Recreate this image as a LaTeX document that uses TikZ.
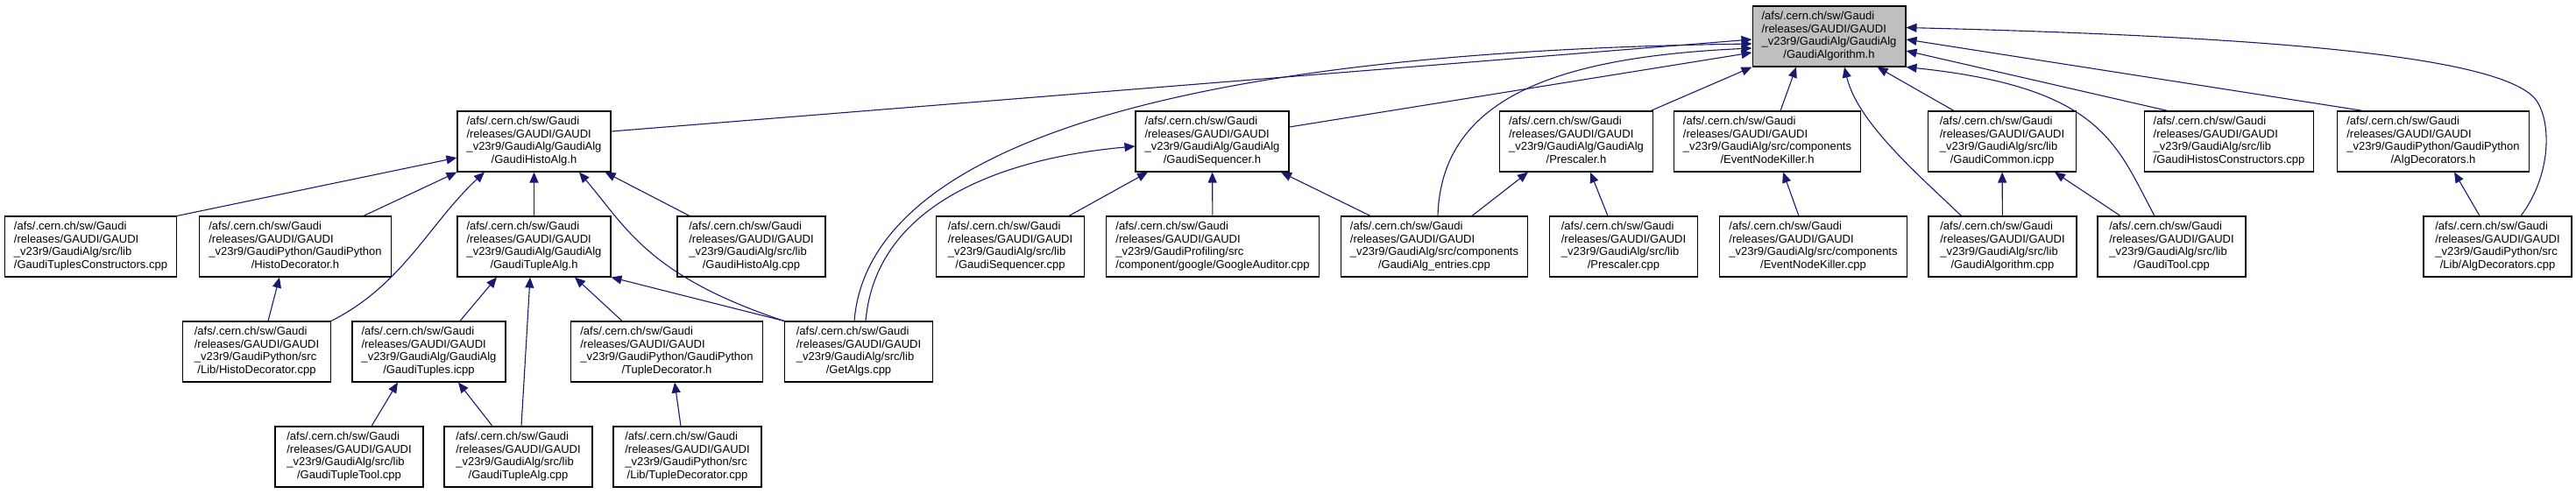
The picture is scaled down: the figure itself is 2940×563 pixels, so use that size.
\documentclass[tikz,border=0pt]{standalone}
\usepackage{fontspec}
\setmainfont{Liberation Sans}
\usepackage{tikz}
\usetikzlibrary{arrows.meta}
\definecolor{edgeblue}{HTML}{191970}
\definecolor{rootgray}{HTML}{BFBFBF}
\newcommand{\afspath}[2]{\begin{tabular}{@{}l@{}}/afs/.cern.ch/sw/Gaudi\\
  /releases/GAUDI/GAUDI\\\_v23r9/#1\\\multicolumn{1}{@{}c@{}}{#2}\end{tabular}}
\tikzset{%
  file/.style = {rectangle,draw=black,line width=1.1pt,fill=white,
        inner xsep=10.5pt,inner ysep=0pt,minimum width=169pt,
        minimum height=69pt,font=\fontsize{13pt}{14.5pt}\selectfont},
  rootfile/.style = {file,fill=rootgray},
  dep/.style = {-{Triangle[length=12pt,width=10pt]},draw=edgeblue,
        line width=1.1pt}
}
\begin{document}
\begin{tikzpicture}[x=1pt,y=-1pt]
\useasboundingbox (0,0) rectangle (2940,563);
% row 0
\node[rootfile] (root) at (2087.5,41.5) {\afspath{GaudiAlg/GaudiAlg}{/GaudiAlgorithm.h}};
% row 1
\node[file] (histoH)     at (609.5,161.5) {\afspath{GaudiAlg/GaudiAlg}{/GaudiHistoAlg.h}};
\node[file] (seqH)       at (1383.5,161.5) {\afspath{GaudiAlg/GaudiAlg}{/GaudiSequencer.h}};
\node[file] (presH)      at (1799,161.5) {\afspath{GaudiAlg/GaudiAlg}{/Prescaler.h}};
\node[file] (enkH)       at (2017,161.5) {\afspath{GaudiAlg/src/components}{/EventNodeKiller.h}};
\node[file] (commonI)    at (2285,161.5) {\afspath{GaudiAlg/src/lib}{/GaudiCommon.icpp}};
\node[file] (histosCons) at (2544,161.5) {\afspath{GaudiAlg/src/lib}{/GaudiHistosConstructors.cpp}};
\node[file] (algDecH)    at (2777,161.5) {\afspath{GaudiPython/GaudiPython}{/AlgDecorators.h}};
% row 2
\node[file] (tuplesCons) at (103.5,281.5) {\afspath{GaudiAlg/src/lib}{/GaudiTuplesConstructors.cpp}};
\node[file] (histoDecH)  at (337,281.5) {\afspath{GaudiPython/GaudiPython}{/HistoDecorator.h}};
\node[file] (tupleAlgH)  at (609.5,281.5) {\afspath{GaudiAlg/GaudiAlg}{/GaudiTupleAlg.h}};
\node[file] (histoAlgC)  at (857.5,281.5) {\afspath{GaudiAlg/src/lib}{/GaudiHistoAlg.cpp}};
\node[file] (seqC)       at (1153,281.5) {\afspath{GaudiAlg/src/lib}{/GaudiSequencer.cpp}};
\node[file] (google)     at (1384,281.5) {\afspath{GaudiProfiling/src}{/component/google/GoogleAuditor.cpp}};
\node[file] (entries)    at (1637,281.5) {\afspath{GaudiAlg/src/components}{/GaudiAlg\_entries.cpp}};
\node[file] (presC)      at (1853,281.5) {\afspath{GaudiAlg/src/lib}{/Prescaler.cpp}};
\node[file] (enkC)       at (2069.5,281.5) {\afspath{GaudiAlg/src/components}{/EventNodeKiller.cpp}};
\node[file] (algoC)      at (2285.5,281.5) {\afspath{GaudiAlg/src/lib}{/GaudiAlgorithm.cpp}};
\node[file] (toolC)      at (2478.5,281.5) {\afspath{GaudiAlg/src/lib}{/GaudiTool.cpp}};
\node[file] (algDecC)    at (2850.5,281.5) {\afspath{GaudiPython/src}{/Lib/AlgDecorators.cpp}};
% row 3
\node[file] (histoDecC)  at (293,401.5) {\afspath{GaudiPython/src}{/Lib/HistoDecorator.cpp}};
\node[file] (tuplesI)    at (489.5,401.5) {\afspath{GaudiAlg/GaudiAlg}{/GaudiTuples.icpp}};
\node[file] (tupleDecH)  at (761,401.5) {\afspath{GaudiPython/GaudiPython}{/TupleDecorator.h}};
\node[file] (getAlgs)    at (980,401.5) {\afspath{GaudiAlg/src/lib}{/GetAlgs.cpp}};
% row 4
\node[file] (tupleTool)  at (398.5,521.5) {\afspath{GaudiAlg/src/lib}{/GaudiTupleTool.cpp}};
\node[file] (tupleAlgC)  at (591.5,521.5) {\afspath{GaudiAlg/src/lib}{/GaudiTupleAlg.cpp}};
\node[file] (tupleDecC)  at (784.5,521.5) {\afspath{GaudiPython/src}{/Lib/TupleDecorator.cpp}};

% into GaudiAlgorithm.h
\draw[dep] ([yshift=11.5pt]histoH.east) -- ([yshift=-3.5pt]root.west);
\draw[dep] ([xshift=-5pt]getAlgs.north) .. controls (990,180) and (1300,60) .. ([yshift=-8.5pt]root.west);
\draw[dep] ([xshift=4pt]entries.north) .. controls (1645,110) and (1780,65) .. ([yshift=-13.5pt]root.west);
\draw[dep] ([yshift=16.5pt]seqH.east) -- ([yshift=-18.5pt]root.west);
\draw[dep] ([xshift=-3pt]presH.north east) -- (root.south west);
\draw[dep] ([xshift=15pt]enkH.north) -- ([xshift=-37.5pt]root.south);
\draw[dep] ([xshift=-47pt]algoC.north) .. controls (2190,200) and (2120,140) .. ([xshift=17.5pt]root.south);
\draw[dep] ([xshift=-55pt]commonI.north) -- ([xshift=55pt]root.south);
\draw[dep] ([xshift=-19.5pt]toolC.north) .. controls (2415,165) and (2400,100) .. (root.south east);
\draw[dep] ([xshift=-70pt]histosCons.north) -- ([yshift=-16.5pt]root.east);
\draw[dep] ([xshift=-80pt]algDecH.north) -- ([yshift=-3.5pt]root.east);
\draw[dep] ([xshift=26.5pt]algDecC.north) .. controls (2912,200) and (2912,140) .. (2895,115)
    .. controls (2860,65) and (2600,42) .. ([yshift=10pt]root.east);
% into GaudiHistoAlg.h
\draw[dep] (tuplesCons.north east) -- ([yshift=-18.5pt]histoH.west);
\draw[dep] ([xshift=78pt]histoDecH.north) -- (histoH.south west);
\draw[dep] (histoDecC.north east) .. controls (460,325) and (490,255) .. ([xshift=-56.5pt]histoH.south);
\draw[dep] (tupleAlgH) -- (histoH);
\draw[dep] ([xshift=-70.5pt]histoAlgC.north) -- ([xshift=-7pt]histoH.south east);
\draw[dep] (getAlgs.north west) .. controls (740,315) and (715,260) .. ([xshift=51.5pt]histoH.south);
% into GaudiTupleAlg.h
\draw[dep] (getAlgs.north west) -- (tupleAlgH.south east);
\draw[dep] ([xshift=35.5pt]tuplesI.north) -- ([xshift=-42.5pt]tupleAlgH.south);
\draw[dep] ([xshift=3.5pt]tupleAlgC.north) -- ([xshift=-4.5pt]tupleAlgH.south);
\draw[dep] ([xshift=-51pt]tupleDecH.north) -- ([xshift=46.5pt]tupleAlgH.south);
% the others
\draw[dep] ([xshift=13pt]histoDecC.north) -- ([xshift=-18pt]histoDecH.south);
\draw[dep] ([xshift=25.5pt]tupleTool.north) -- ([xshift=-35.5pt]tuplesI.south);
\draw[dep] ([xshift=-29.5pt]tupleAlgC.north) -- ([xshift=33.5pt]tuplesI.south);
\draw[dep] ([xshift=-7.5pt]tupleDecC.north) -- ([xshift=9pt]tupleDecH.south);
\draw[dep] ([xshift=8pt]getAlgs.north) .. controls (1000,230) and (1150,180) .. ([yshift=-5.5pt]seqH.west);
\draw[dep] ([xshift=67pt]seqC.north) -- ([xshift=-73.5pt]seqH.south);
\draw[dep] (google) -- (seqH);
\draw[dep] ([xshift=-73pt]entries.north) -- ([xshift=78.5pt]seqH.south);
\draw[dep] ([xshift=43pt]entries.north) -- ([xshift=-55pt]presH.south);
\draw[dep] ([xshift=-18pt]presC.north) -- ([xshift=16pt]presH.south);
\draw[dep] ([xshift=-16.5pt]enkC.north) -- ([xshift=18pt]enkH.south);
\draw[dep] (algoC) -- (commonI);
\draw[dep] ([xshift=-58.5pt]toolC.north) -- ([xshift=60pt]commonI.south);
\draw[dep] ([xshift=-20.5pt]algDecC.north) -- ([xshift=24pt]algDecH.south);
\end{tikzpicture}
\end{document}
